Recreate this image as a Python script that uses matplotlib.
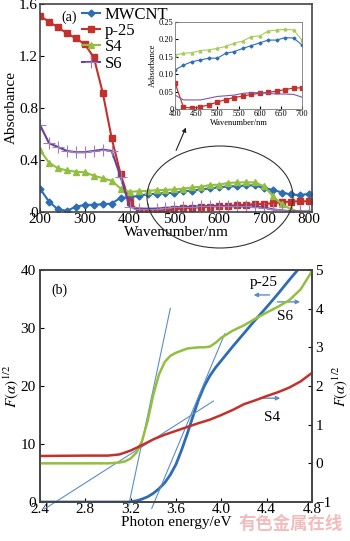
import matplotlib
matplotlib.use("Agg")
import matplotlib.pyplot as plt
from matplotlib.patches import Ellipse

plt.rcParams["font.family"] = ["Liberation Serif", "DejaVu Serif"]
plt.rcParams["mathtext.fontset"] = "stix"

# ---- panel (a): absorbance spectra, 200..800 nm every 20 nm
wavelength = list(range(200, 820, 20))
mwcnt = [0.18, 0.08, 0.02, 0.01, 0.04, 0.055, 0.055, 0.06, 0.065, 0.11,
         0.112, 0.126, 0.136, 0.141, 0.146, 0.146, 0.16, 0.165, 0.174, 0.182,
         0.19, 0.198, 0.198, 0.205, 0.204, 0.184,
         0.17, 0.15, 0.135, 0.13, 0.14]
p25 = [1.508, 1.464, 1.42, 1.375, 1.336, 1.29, 1.19, 0.918, 0.567, 0.29,
       0.075, 0.005, 0.003, 0.006, 0.012, 0.02, 0.027, 0.033, 0.037, 0.042,
       0.045, 0.048, 0.051, 0.056, 0.06, 0.061,
       0.068, 0.075, 0.08, 0.082, 0.082]
s4 = [0.477, 0.38, 0.336, 0.32, 0.31, 0.305, 0.28, 0.26, 0.24, 0.18,
      0.155, 0.16, 0.162, 0.168, 0.17, 0.174, 0.18, 0.189, 0.195, 0.208,
      0.21, 0.224, 0.227, 0.229, 0.227, 0.198,
      0.12, 0.06, 0.02, 0.0, 0.0]
s6 = [0.67, 0.53, 0.50, 0.47, 0.46, 0.46, 0.47, 0.48, 0.47, 0.27,
      0.04, 0.026, 0.026, 0.026, 0.031, 0.036, 0.038, 0.04, 0.045, 0.047,
      0.047, 0.045, 0.043, 0.043, 0.042, 0.034,
      0.02, 0.012, 0.006, 0.004, 0.004]
inset_slice = slice(10, 26)  # 400..700 nm

# ---- panel (b): Kubelka-Munk plots
energy_p25 = [2.4, 3.0, 3.18, 3.25, 3.3, 3.35, 3.4, 3.45, 3.5, 3.55, 3.6, 3.65, 3.7,
              3.75, 3.8, 3.85, 3.9, 3.95, 4.0, 4.1, 4.2, 4.3, 4.4, 4.5, 4.6, 4.7]
f_p25 = [0, 0, 0, 0.2, 0.5, 0.9, 1.5, 2.3, 3.3, 4.7, 6.5, 9.0, 11.8,
         14.8, 17.7, 20.0, 21.8, 23.2, 24.4, 26.8, 29.1, 31.4, 33.6, 35.9, 38.3, 40.6]

energy_s6 = [2.4, 3.0, 3.1, 3.15, 3.2, 3.25, 3.3, 3.35, 3.4, 3.45, 3.5, 3.55, 3.6,
             3.7, 3.8, 3.85, 3.9, 3.95, 4.0, 4.1, 4.2, 4.3, 4.4, 4.5, 4.6, 4.7, 4.8]
f_s6 = [0.0, 0.0, 0.02, 0.05, 0.125, 0.275, 0.575, 1.1, 1.775, 2.3, 2.62, 2.78, 2.86,
        2.97, 3.0, 3.0, 3.02, 3.12, 3.25, 3.43, 3.57, 3.74, 3.9, 4.05, 4.22, 4.5, 4.97]

energy_s4 = [2.4, 2.8, 3.0, 3.1, 3.2, 3.3, 3.4, 3.5, 3.6, 3.7, 3.8, 3.9, 4.0,
             4.1, 4.2, 4.3, 4.4, 4.5, 4.6, 4.7, 4.8]
f_s4 = [0.19, 0.2, 0.2, 0.23, 0.33, 0.47, 0.62, 0.74, 0.84, 0.94, 1.04, 1.13, 1.25,
        1.38, 1.53, 1.63, 1.74, 1.84, 1.96, 2.12, 2.34]

# tangent lines (left-axis units): (x0, x1), (y0, y1)
tangents = [((3.18, 3.55), (-0.8, 33.4)),
            ((3.386, 4.03), (-1.1, 29.0)),
            ((2.44, 3.93), (-1.2, 17.4))]

blue = "#2e6db4"
red = "#c4302b"
green = "#92bf3f"
purple = "#6b3f92"
thin = "#5b8ec4"

fig = plt.figure(figsize=(3.5, 5.41), dpi=100)

# ================= panel (a)
ax = fig.add_axes([40 / 350, 1 - 212 / 541, 272 / 350, 208 / 541])
ax.plot(wavelength, mwcnt, color=blue, marker="D", ms=3.5, lw=1.5, label="MWCNT")
ax.plot(wavelength, p25, color=red, marker="s", ms=5, lw=1.5, label="p-25")
ax.plot(wavelength, s4, color=green, marker="^", ms=5, lw=1.5, label="S4")
ax.plot(wavelength, s6, color=purple, marker="+", ms=9, mew=0.8, mec="#9a7fbf",
        lw=1.5, label="S6")
ax.set_xlim(200, 807)
ax.set_ylim(0, 1.6)
ax.set_xticks([200, 300, 400, 500, 600, 700, 800])
ax.set_yticks([0, 0.4, 0.8, 1.2, 1.6])
ax.set_yticklabels(["0", "0.4", "0.8", "1.2", "1.6"])
ax.tick_params(direction="in", labelsize=11, length=3)
ax.tick_params(axis="x", pad=1)
ax.tick_params(axis="y", pad=1.5)
ax.set_xlabel("Wavenumber/nm", fontsize=11, labelpad=0)
ax.set_ylabel("Absorbance", fontsize=11, labelpad=1)
for sp in ax.spines.values():
    sp.set_color("#444444")
    sp.set_linewidth(1.2)
ax.legend(loc="upper left", bbox_to_anchor=(0.13, 1.02), frameon=False, fontsize=12,
          handlelength=1.1, handletextpad=0.25, labelspacing=0.02, borderaxespad=0)
ax.text(0.08, 0.97, "(a)", transform=ax.transAxes, fontsize=10, va="top")

# inset
axi = fig.add_axes([175 / 350, 1 - 109 / 541, 127 / 350, 87 / 541])
w_in = wavelength[inset_slice]
axi.plot(w_in, mwcnt[inset_slice], color=blue, marker="D", ms=1.5, lw=0.8)
axi.plot(w_in, p25[inset_slice], color=red, marker="s", ms=2.5, lw=0.9)
axi.plot(w_in, s4[inset_slice], color="#a9c95a", marker="^", ms=2, lw=0.8)
axi.plot(w_in, s6[inset_slice], color="#7a5aa8", lw=0.8)
axi.set_xlim(400, 700)
axi.set_ylim(0, 0.25)
axi.set_xticks([400, 450, 500, 550, 600, 650, 700])
axi.set_yticks([0, 0.05, 0.10, 0.15, 0.20, 0.25])
axi.set_yticklabels(["0", "0.05", "0.10", "0.15", "0.20", "0.25"])
axi.tick_params(direction="in", labelsize=6, length=2, pad=1)
axi.set_xlabel("Wavenumber/nm", fontsize=6, labelpad=0.5)
axi.set_ylabel("Asbsorbance", fontsize=6, labelpad=1)
for sp in axi.spines.values():
    sp.set_color("#777777")
    sp.set_linewidth(0.6)

# ellipse + arrow pointing to inset
fig.add_artist(Ellipse((220 / 350, 1 - 197 / 541), 146 / 350, 102 / 541,
                       transform=fig.transFigure, fill=False, ec="#333333", lw=0.8))
ax.annotate("", xy=(187 / 350, 1 - 125 / 541), xytext=(175 / 350, 1 - 153 / 541),
            xycoords="figure fraction", textcoords="figure fraction",
            arrowprops=dict(arrowstyle="-|>", color="#222222", lw=0.8,
                            mutation_scale=6))

# ================= panel (b)
bx = fig.add_axes([40 / 350, 39 / 541, 272 / 350, 232 / 541])
bx2 = bx.twinx()
bx.plot(energy_p25, f_p25, color=blue, lw=2)
bx2.plot(energy_s6, f_s6, color=green, lw=1.8)
bx2.plot(energy_s4, f_s4, color=red, lw=1.8)
for xs, ys in tangents:
    bx.plot(xs, ys, color=thin, lw=0.8, clip_on=False)
bx.set_xlim(2.4, 4.8)
bx.set_ylim(0, 40)
bx2.set_ylim(-1, 5)
bx.set_xticks([2.4, 2.8, 3.2, 3.6, 4.0, 4.4, 4.8])
bx.set_xticklabels(["2.4", "2.8", "3.2", "3.6", "4.0", "4.4", "4.8"])
bx.set_yticks([0, 10, 20, 30, 40])
bx2.set_yticks([-1, 0, 1, 2, 3, 4, 5])
bx2.set_yticklabels(["\u22121", "0", "1", "2", "3", "4", "5"])
bx.tick_params(direction="in", labelsize=11, length=3)
bx.tick_params(axis="x", pad=1)
bx.tick_params(axis="y", pad=3)
bx2.tick_params(direction="in", labelsize=11, length=3, pad=2.5)
bx.set_xlabel("Photon energy/eV", fontsize=11, labelpad=0)
bx.set_ylabel(r"$F(\alpha)^{1/2}$", fontsize=11, labelpad=0)
bx2.set_ylabel(r"$F(\alpha)^{1/2}$", fontsize=10.5, labelpad=-1)
for sp in list(bx.spines.values()) + list(bx2.spines.values()):
    sp.set_color("#444444")
    sp.set_linewidth(1.2)
bx.text(0.04, 0.94, "(b)", transform=bx.transAxes, fontsize=10, va="top")

arrow_kw = dict(arrowstyle="-|>", color=thin, lw=1, mutation_scale=6)
bx.text(4.37, 37.9, "p-25", fontsize=11, ha="center", va="center")
bx.annotate("", xy=(4.26, 35.7), xytext=(4.45, 35.7), arrowprops=arrow_kw)
bx.text(4.56, 31.9, "S6", fontsize=11, ha="center", va="center")
bx.annotate("", xy=(4.72, 34.5), xytext=(4.47, 34.5), arrowprops=arrow_kw)
bx.text(4.45, 14.5, "S4", fontsize=11, ha="center", va="center")
bx.annotate("", xy=(4.545, 17.9), xytext=(4.34, 17.9), arrowprops=arrow_kw)

# watermark
fig.text(343 / 350, 1 - 524 / 541, "有色金属在线", fontsize=12.5, color="#f3bcbc",
         ha="right", va="center", family=["Noto Sans CJK SC", "DejaVu Sans"],
         fontweight="bold")

fig.savefig("out.png", dpi=100)
